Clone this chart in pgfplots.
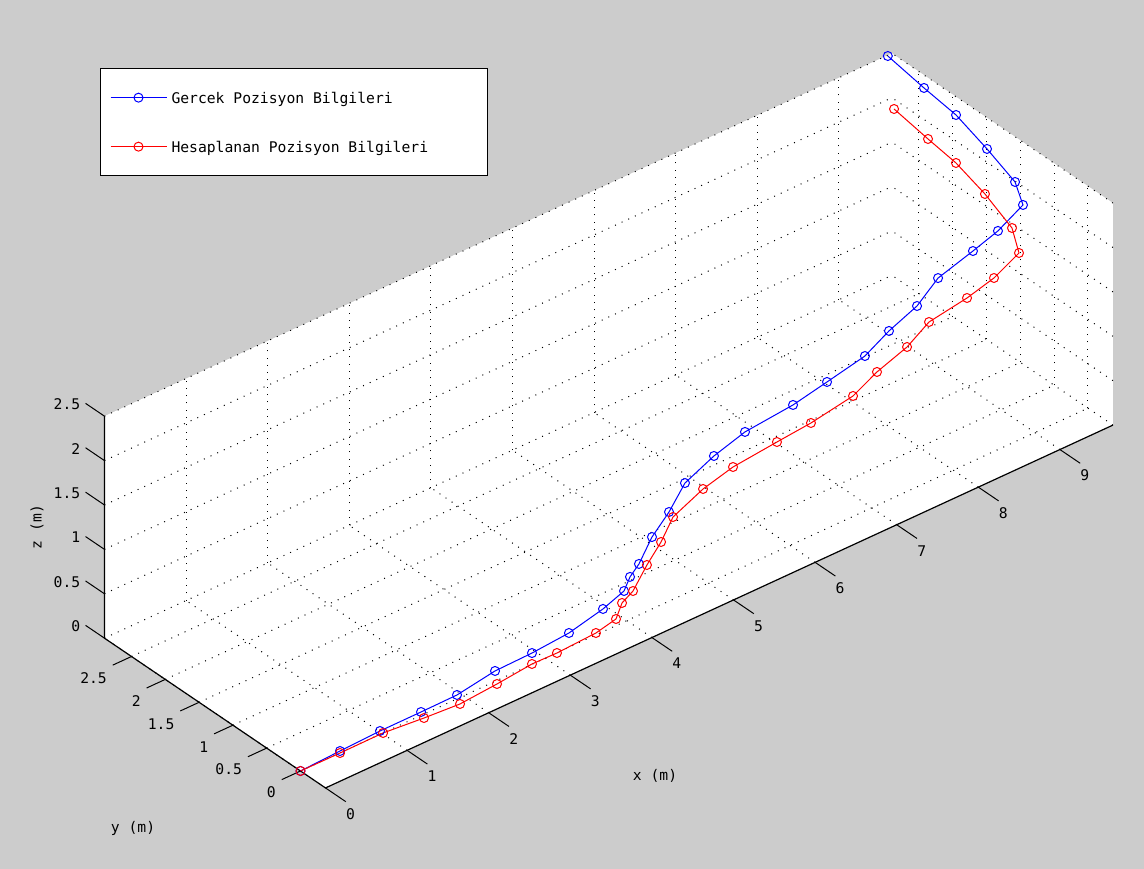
\documentclass[border=0pt]{standalone}
\usepackage{pgfplots}
\pgfplotsset{compat=1.18}
\usepackage{fontspec}
\setmainfont{DejaVu Sans Mono}

\definecolor{figbg}{RGB}{204,204,204}

\begin{document}
\begin{tikzpicture}[font=\fontsize{14.7}{17}\selectfont]
\begin{axis}[
  set layers,
  clip=false,
  at={(300.5pt,98pt)}, anchor=origin,
  x={(81.6pt,37.6pt)}, y={(-67.6pt,45.8pt)}, z={(0pt,88.8pt)},
  xmin=0, xmax=9.65, ymin=-0.37, ymax=2.9, zmin=0, zmax=2.5,
  xtick={0,1,...,9}, ytick={0,0.5,...,2.5}, ztick={0,0.5,...,2.5},
  xticklabels={}, yticklabels={}, zticklabels={},
  grid=major,
  major grid style={black, line width=1pt, dash pattern=on 1pt off 6.3pt},
  major tick length=0pt, tick style={draw=none},
  axis line style={draw=none},
  legend style={at={(axis cs:0,2.966,6.385)}, anchor=north west,
    draw=black, line width=1pt, fill=white,
    inner xsep=0pt, inner ysep=4.5pt, row sep=0pt,
    nodes={inner sep=0pt, minimum height=49pt, text depth=0pt}},
  legend cell align=left,
  legend image code/.code={
    \path[draw=none] (0pt,0pt) -- (71pt,0pt);
    \draw[mark repeat=2, mark phase=2] plot coordinates {(10pt,0pt) (38pt,0pt) (66pt,0pt)};
  },
]
\begin{pgfonlayer}{axis background}
% grey figure area, then the white back panes
\fill[figbg] (axis cs:0,4.4749,-3.4341) -- (axis cs:0,-12.5074,5.3248)
  -- (axis cs:0,-12.5074,15.1559) -- (axis cs:0,4.4749,6.3970) -- cycle;
\fill[white] (axis cs:0,-0.37,0) -- (axis cs:9.65,-0.37,0) -- (axis cs:9.65,-0.37,2.5)
  -- (axis cs:9.65,2.9,2.5) -- (axis cs:0,2.9,2.5) -- (axis cs:0,2.9,0) -- cycle;
\end{pgfonlayer}
\begin{pgfonlayer}{axis lines}
\draw[black, line width=1.2pt] (axis cs:9.65,-0.37,0) -- (axis cs:0,-0.37,0)
  -- (axis cs:0,2.9,0) -- (axis cs:0,2.9,2.5);
\pgfplotsinvokeforeach{0,1,2,3,4,5,6,7,8,9}{
  \draw[black, line width=1pt] (axis cs:#1,-0.37,0) -- (axis cs:#1,-0.67,0);
  \node[inner sep=0pt] at (axis cs:#1-0.098,-0.858,0) {#1};
}
\pgfplotsinvokeforeach{0,0.5,1,1.5,2,2.5}{
  \draw[black, line width=1pt] (axis cs:0,#1,0) -- (axis cs:-0.23,#1,0);
  \node[inner sep=0pt, anchor=east] at (axis cs:-0.41,#1-0.133,0) {#1};
  \draw[black, line width=1pt] (axis cs:0,2.9,#1) -- (axis cs:0,3.18,#1);
  \node[inner sep=0pt, anchor=east] at (axis cs:0,3.255,#1-0.048) {#1};
}
\end{pgfonlayer}

% Gercek (measured) positions
\addplot3[blue, line width=1pt, mark=o, mark size=4.5pt] coordinates {
(0,0,0) (0.484,0,0.020) (0.974,0,0.038) (1.477,0,0.039) (1.918,0,0.044)
(2.384,0,0.117) (2.837,0,0.127) (3.290,0,0.161) (3.707,0,0.255)
(4.006,0.050,0.305) (4.126,0.106,0.384) (4.283,0.163,0.434) (4.489,0.219,0.621)
(4.744,0.275,0.766) (4.986,0.331,0.961) (5.388,0.388,1.066) (5.815,0.444,1.127)
(6.450,0.500,1.133) (6.913,0.556,1.167) (7.425,0.613,1.213) (7.766,0.669,1.322)
(8.156,0.725,1.409) (8.460,0.781,1.566) (8.935,0.838,1.640) (9.288,0.894,1.688)
(9.641,0.950,1.802) (9.65,1.078,1.991) (9.65,1.493,2.149) (9.65,1.951,2.295)
(9.65,2.425,2.355) (9.60,2.900,2.491)
};
\addlegendentry{\makebox[316pt][l]{Gercek Pozisyon Bilgileri}}

% Hesaplanan (computed) positions
\addplot3[red, line width=1pt, mark=o, mark size=4.5pt] coordinates {
(0,0,0) (0.463,-0.026,0.020) (0.975,-0.044,0.038) (1.434,-0.096,0.039) (1.843,-0.135,0.044)
(2.258,-0.181,0.117) (2.719,-0.142,0.127) (2.987,-0.188,0.161) (3.397,-0.270,0.255)
(3.646,-0.266,0.305) (3.787,-0.185,0.384) (3.948,-0.153,0.434) (4.151,-0.114,0.621)
(4.363,-0.067,0.766) (4.533,-0.039,0.961) (4.953,0.024,1.066) (5.350,0.060,1.127)
(5.934,0.115,1.133) (6.354,0.119,1.167) (6.908,0.165,1.213) (7.237,0.208,1.322)
(7.642,0.252,1.409) (7.921,0.264,1.566) (8.386,0.263,1.640) (8.752,0.306,1.688)
(9.095,0.350,1.802) (9.132,0.498,1.991) (9.150,0.920,2.149) (9.133,1.328,2.295)
(9.130,1.738,2.355) (9.075,2.174,2.491)
};
\addlegendentry{\makebox[316pt][l]{Hesaplanan Pozisyon Bilgileri}}

\node at (axis cs:2.532,-2.188,0) {x (m)};
\node at (axis cs:-1.835,0.262,0) {y (m)};
\node[rotate=90] at (axis cs:0,3.898,0.738) {z (m)};
\end{axis}
\pgfresetboundingbox
\path (0pt,0pt) rectangle (1144pt,869pt);
\end{tikzpicture}
\end{document}
